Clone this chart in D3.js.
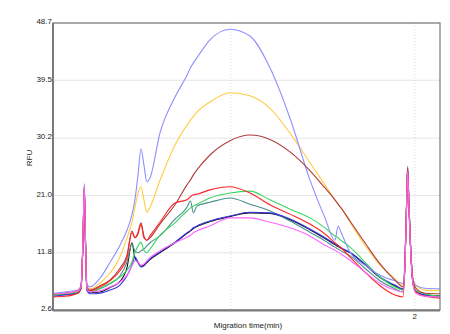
<!DOCTYPE html>
<html><head><meta charset="utf-8">
<script src="https://cdn.jsdelivr.net/npm/d3@7"></script>
<style>body{margin:0;background:#fff}svg{display:block}</style>
</head><body>
<svg id="chart" width="450" height="334"></svg>
<script>
// Migration time (min), shared sampling grid
const times = [0.033,0.098,0.168,0.185,0.196,0.203,0.209,0.217,0.234,0.288,0.342,0.397,0.435,0.462,0.478,0.495,0.511,0.527,0.543,0.560,0.614,0.696,0.761,0.780,0.796,0.815,0.886,0.995,1.103,1.212,1.321,1.429,1.511,1.565,1.582,1.598,1.647,1.728,1.810,1.891,1.935,1.946,1.954,1.960,1.967,1.976,1.989,2.005,2.054,2.136];
// RFU values per trace
const blackVals = [5.0,5.1,5.4,6.1,13.6,22.0,14.1,5.9,5.4,5.5,6.2,7.2,9.4,13.4,11.0,10.2,9.6,9.8,10.2,10.7,11.8,13.4,14.9,15.3,15.7,16.0,16.8,17.6,18.2,18.1,17.1,15.5,14.1,13.1,12.8,12.5,11.8,9.9,7.8,6.5,5.9,10.3,19.2,25.3,19.7,12.8,7.0,5.6,5.0,4.9];
const tealVals = [5.0,5.2,5.5,6.1,13.5,22.1,14.2,6.0,5.5,6.0,6.8,8.1,10.3,13.2,12.1,11.8,12.1,12.4,12.9,13.4,14.5,17.2,19.1,20.1,18.2,19.3,19.9,20.6,19.6,18.5,16.9,15.1,13.7,12.7,12.4,12.1,11.3,9.3,7.3,6.0,5.5,10.3,19.1,25.6,19.8,12.7,7.1,5.7,5.0,4.8];
const blueVals = [4.8,5.0,5.3,6.0,13.5,21.9,14.0,5.8,5.2,5.3,5.8,6.6,8.1,9.8,11.1,10.3,9.5,9.7,10.3,10.8,11.9,13.5,15.0,15.4,15.8,16.1,16.9,17.7,18.3,18.2,17.2,15.6,14.2,13.2,12.9,12.6,11.9,10.0,7.9,6.6,6.0,10.3,19.0,25.1,19.6,12.7,6.9,5.5,5.0,4.7];
const greenVals = [5.0,5.2,5.5,6.1,13.8,22.4,14.5,6.1,5.7,6.1,6.9,7.9,9.0,10.3,11.8,12.9,13.5,12.2,11.8,12.4,14.6,16.6,18.5,19.0,19.3,19.6,20.6,21.4,21.7,20.3,18.8,17.4,15.8,14.5,14.2,13.8,12.7,10.3,7.9,6.3,5.8,10.5,19.3,25.6,19.9,13.0,7.3,5.8,5.2,4.8];
const yellowVals = [5.2,5.3,5.7,6.3,13.8,22.5,14.6,6.5,6.0,6.9,8.5,11.1,14.2,16.7,19.0,21.4,22.4,20.3,18.3,19.1,23.4,29.1,32.3,33.1,33.7,34.4,36.0,37.5,37.0,35.0,31.0,26.3,22.7,20.3,19.6,19.0,16.7,13.0,9.8,7.6,6.6,11.0,19.5,25.4,19.9,13.0,7.6,6.5,5.8,5.7];
const lightBlueVals = [5.3,5.5,5.8,6.5,13.8,22.9,15.0,6.8,6.3,7.7,10.2,13.0,15.4,17.9,20.3,24.3,28.5,25.9,23.2,23.8,31.0,36.8,40.3,41.5,42.3,43.1,46.0,47.7,46.6,41.5,33.4,23.5,17.4,13.8,16.1,15.1,11.9,9.8,8.2,7.3,6.9,11.0,19.5,25.7,20.3,13.4,7.7,6.6,6.1,6.0];
const darkRedVals = [5.2,5.3,5.7,6.3,13.8,22.4,14.5,6.3,5.8,6.5,7.4,9.3,11.4,15.3,14.2,15.1,16.6,14.5,13.8,14.2,16.4,19.5,22.7,23.5,24.3,25.1,27.5,29.8,30.7,30.0,28.0,25.0,22.2,20.3,19.6,19.0,16.9,13.4,10.0,7.4,6.3,10.6,19.1,25.4,19.8,12.9,7.3,6.1,5.3,5.2];
const redVals = [4.7,4.8,5.3,6.1,13.8,22.2,14.3,6.1,5.7,6.3,7.3,8.9,11.0,15.1,14.2,14.8,16.4,14.2,13.8,14.5,16.7,19.8,20.3,20.8,21.1,21.2,21.9,22.4,21.4,19.5,18.0,16.4,14.8,13.4,13.0,12.6,11.1,8.7,6.5,5.0,4.7,10.3,19.0,25.1,19.5,12.6,6.9,5.5,4.8,4.5];
const magentaVals = [5.2,5.3,5.7,6.3,14.2,22.5,14.8,6.1,5.5,5.7,6.3,7.1,8.2,9.7,10.5,10.3,9.8,10.0,10.5,11.0,12.1,13.4,14.3,14.6,15.0,15.3,16.1,17.4,17.4,16.7,15.8,14.5,13.0,12.2,11.9,11.6,10.6,8.7,6.9,5.8,5.5,10.0,18.7,24.8,19.3,12.4,6.8,5.3,4.8,4.7];

const seriesNames = ["black","teal","blue","green","yellow","lightblue","darkred","red","magenta"];
const seriesColors = ["#111111","#4a8f8f","#3434e0","#3ad660","#ffcc44","#8f8fff","#b03c3c","#ff2424","#ff66ff"];
const seriesValues = [blackVals,tealVals,blueVals,greenVals,yellowVals,lightBlueVals,darkRedVals,redVals,magentaVals];

const yTicks = [2.6, 11.8, 21.0, 30.2, 39.5, 48.7];
const xGridTicks = [1, 2];
const xTickLabels = {2: "2"};
const xDomain = [0.033, 2.136];

const svg = d3.select("#chart");
const m = {left: 53, right: 440, top: 23, bottom: 310};
const x = d3.scaleLinear().domain(xDomain).range([m.left, m.right]);
const y = d3.scaleLinear().domain([yTicks[0], yTicks[yTicks.length-1]]).range([m.bottom, m.top]);

// horizontal grid
svg.append("g").selectAll("line").data(yTicks).join("line")
  .attr("x1", m.left).attr("x2", m.right)
  .attr("y1", d => y(d)).attr("y2", d => y(d))
  .attr("stroke", "#e6e6e6").attr("stroke-width", 1);
// vertical dotted grid
svg.append("g").selectAll("line").data(xGridTicks).join("line")
  .attr("x1", d => x(d)).attr("x2", d => x(d))
  .attr("y1", m.top).attr("y2", m.bottom)
  .attr("stroke", "#dcdcdc").attr("stroke-width", 1).attr("stroke-dasharray", "1,2");

// traces
const line = d3.line().x((d, i) => x(times[i])).y(d => y(d)).curve(d3.curveMonotoneX);
svg.append("g").selectAll("path").data(seriesValues).join("path")
  .attr("d", d => line(d))
  .attr("fill", "none")
  .attr("stroke", (d, i) => seriesColors[i])
  .attr("stroke-width", 1.1)
  .attr("stroke-linejoin", "round");

// frame
svg.append("rect").attr("x", m.left).attr("y", m.top)
  .attr("width", m.right - m.left).attr("height", m.bottom - m.top)
  .attr("fill", "none").attr("stroke", "#7a7a7a").attr("stroke-width", 1.2);
svg.append("line").attr("x1", m.left).attr("x2", m.left).attr("y1", m.top).attr("y2", m.bottom + 1)
  .attr("stroke", "#7a7a7a").attr("stroke-width", 2);
svg.append("line").attr("x1", m.left).attr("x2", m.right).attr("y1", m.bottom + 0.5).attr("y2", m.bottom + 0.5)
  .attr("stroke", "#7a7a7a").attr("stroke-width", 2);

// y axis labels
const yAxis = d3.axisLeft(y).tickValues(yTicks).tickFormat(d3.format(".1f")).tickSize(0).tickPadding(1);
const gy = svg.append("g").attr("transform", `translate(${m.left},0)`).call(yAxis);
gy.select(".domain").remove();
gy.selectAll("text").attr("font-family", "Arial, 'Liberation Sans', sans-serif").attr("font-size", 8)
  .attr("fill", "#222").attr("dy", "0.1em");

// x axis labels
const xAxis = d3.axisBottom(x).tickValues(Object.keys(xTickLabels).map(Number))
  .tickFormat(d => xTickLabels[d]).tickSize(0).tickPadding(3);
const gx = svg.append("g").attr("transform", `translate(0,${m.bottom})`).call(xAxis);
gx.select(".domain").remove();
gx.selectAll("text").attr("font-family", "Arial, 'Liberation Sans', sans-serif").attr("font-size", 8)
  .attr("fill", "#222").attr("dx", "-0.1em");

// axis titles
svg.append("text").attr("x", 248).attr("y", 328).attr("text-anchor", "middle")
  .attr("font-family", "Arial, 'Liberation Sans', sans-serif").attr("font-size", 8).attr("fill", "#222")
  .text("Migration time(min)");
svg.append("text").attr("transform", "translate(32,158) rotate(-90)").attr("text-anchor", "middle")
  .attr("font-family", "Arial, 'Liberation Sans', sans-serif").attr("font-size", 8).attr("fill", "#222")
  .text("RFU");
</script>
</body></html>
